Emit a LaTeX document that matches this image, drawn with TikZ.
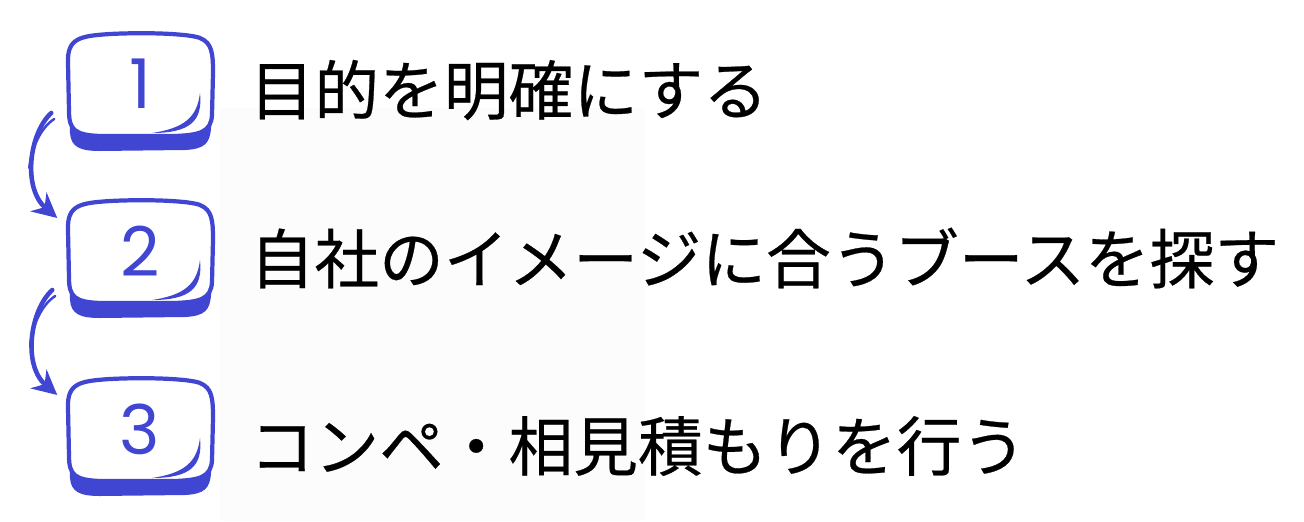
\documentclass[tikz,border=0pt]{standalone}
\usepackage{fontspec}
\newfontfamily\jpfont[FakeBold=0.4]{Noto Sans CJK JP}
\newfontfamily\numfont{Poppins}
\usetikzlibrary{calc,arrows.meta}
\definecolor{keyblue}{HTML}{4146D2}
\tikzset{
  keyline/.style={draw=keyblue, line width=1.2pt, fill=white},
  keynum/.style={inner sep=0pt, minimum width=1.46cm, minimum height=1.17cm,
    text=keyblue, font=\numfont\fontsize{19.5pt}{20pt}\selectfont},
  steptext/.style={anchor=west, inner sep=0pt, text=black,
    font=\jpfont\fontsize{18.4pt}{20pt}\selectfont},
  flowarrow/.style={draw=keyblue, line width=1.3pt, line cap=round,
    -{Stealth[length=7pt,width=7pt]}},
  sketchline/.style={draw=keyblue, line width=0.7pt, line cap=round}
}
\begin{document}
\begin{tikzpicture}[x=0.01cm,y=-0.01cm]
\useasboundingbox (0,0) rectangle (1304,521);

%faint panel behind the texts
\fill[black!1] (220,108) rectangle (645,521);

%key caps
\foreach \i/\y in {1/33,2/200,3/378}{
  %bottom band
  \fill[keyblue] (69,\y+60) -- (70,\y+100) .. controls (71,\y+114) and (80,\y+118) .. (100,\y+118)
    -- (185,\y+117) .. controls (205,\y+116) and (210,\y+110) .. (211,\y+95) -- (212,\y+60) -- cycle;
  %cap
  \draw[keyline] (68,\y+30) .. controls (67,\y+5) and (80,\y+3) .. (110,\y+1)
    .. controls (150,\y-1) and (190,\y+1) .. (200,\y+5)
    .. controls (212,\y+10) and (213,\y+20) .. (213,\y+40) -- (212,\y+82)
    .. controls (211,\y+99) and (200,\y+102) .. (175,\y+103) -- (100,\y+103)
    .. controls (75,\y+102) and (69,\y+97) .. (69,\y+78) -- cycle;
  %highlight
  \fill[keyblue] (200,\y+60) .. controls (203,\y+88) and (190,\y+100) .. (152,\y+100)
    .. controls (185,\y+95) and (197,\y+84) .. (200,\y+60) -- cycle;
  \node[keynum] (k\i) at (140,\y+51) {\i};
}

%arrows
\coordinate (s1) at ($(k1.west)+(-15,29)$);
\coordinate (e1) at ($(k2.west)+(-9,-33)$);
\draw[flowarrow] (s1) .. controls ($(s1)+(-22,20)$) and ($(e1)+(-35,-30)$) .. (e1);
\draw[sketchline] ($(s1)+(3,6)$) .. controls ($(s1)+(-10,14)$) and ($(s1)+(-20,35)$) .. ($(s1)+(-22,55)$);

\coordinate (s2) at ($(k2.west)+(-14,39)$);
\coordinate (e2) at ($(k3.west)+(-9,-34)$);
\draw[flowarrow] (s2) .. controls ($(s2)+(-22,20)$) and ($(e2)+(-35,-30)$) .. (e2);
\draw[sketchline] ($(s2)+(3,6)$) .. controls ($(s2)+(-10,14)$) and ($(s2)+(-20,35)$) .. ($(s2)+(-22,55)$);

%texts
\node[steptext] (t1) at (249,90) {目的を明確にする};
\node[steptext] (t2) at (249,258) {自社のイメージに合うブースを探す};
\node[steptext] (t3) at (249,446) {コンペ・相見積もりを行う};
\end{tikzpicture}
\end{document}
